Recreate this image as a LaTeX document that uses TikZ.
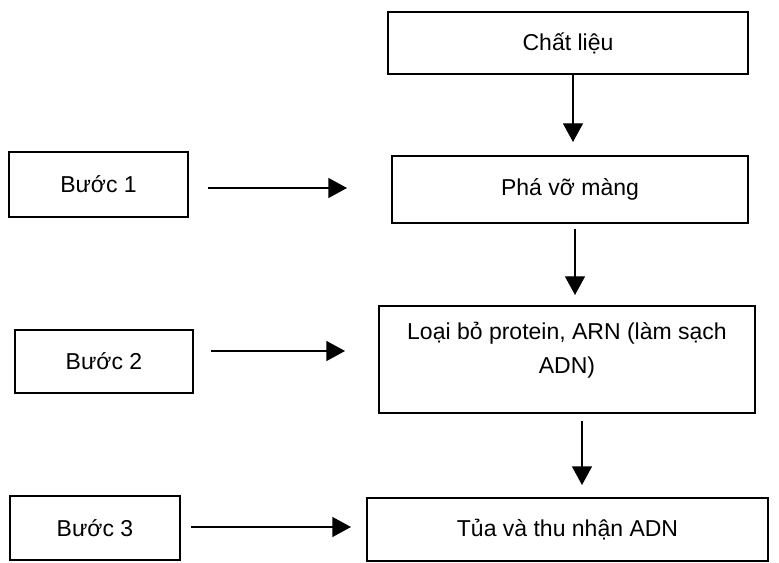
\documentclass[tikz,border=0pt]{standalone}
\usepackage{fontspec}
\setmainfont{Liberation Sans}
\usetikzlibrary{arrows.meta,calc}
% one drawing unit = one pixel of the final picture
\newcommand{\pxu}{*0.75pt}
\begin{document}
\begin{tikzpicture}[x=0.75pt,y=-0.75pt,
  box/.style={draw, line width=1.5pt, rectangle, inner sep=0pt,
    font=\fontsize{17.25pt}{25.5pt}\selectfont, align=center},
  boxtext/.style={inner sep=0pt, font=\fontsize{17.25pt}{25.5pt}\selectfont, align=center},
  link/.style={line width=1pt, -{Triangle[length=14pt,width=15pt]}}]
\useasboundingbox (0,0) rectangle (779,563);

% main column
\node[box, minimum width=360\pxu, minimum height=62\pxu] (c1) at (568,43) {Chất liệu};
\node[box, minimum width=356\pxu, minimum height=67\pxu] (c2) at (570,189.5) {Phá vỡ màng};
\node[box, minimum width=376\pxu, minimum height=107\pxu] (c3) at (567,359.5) {};
\node[boxtext] (c3t) at (567,350) {Loại bỏ protein, ARN (làm sạch\\ADN)};
\node[box, minimum width=401\pxu, minimum height=63\pxu] (c4) at (567.5,529.5) {Tủa và thu nhận ADN};

% steps
\node[box, minimum width=179\pxu, minimum height=65\pxu] (s1) at (98.5,184.5) {Bước 1};
\node[box, minimum width=178\pxu, minimum height=63\pxu] (s2) at (104,361.5) {Bước 2};
\node[box, minimum width=170\pxu, minimum height=64\pxu] (s3) at (95,528) {Bước 3};

% flow downwards
\draw[link] ($(c1.south)+(5,0)$) -- ($(c2.north)+(3,-13)$);
\draw[link] ($(c2.south)+(5,5)$) -- ($(c3.north)+(8,-10)$);
\draw[link] ($(c3.south)+(15,7)$) -- ($(c4.north)+(14.5,-12)$);

% steps pointing to their stage
\draw[link] ($(s1.east)+(19,3.5)$) -- ($(c2.west)+(-44,-1.5)$);
\draw[link] ($(s2.east)+(17,-10.5)$) -- ($(c3.west)+(-33,-8.5)$);
\draw[link] ($(s3.east)+(10,-1)$) -- ($(c4.west)+(-15,-2.5)$);
\end{tikzpicture}
\end{document}
